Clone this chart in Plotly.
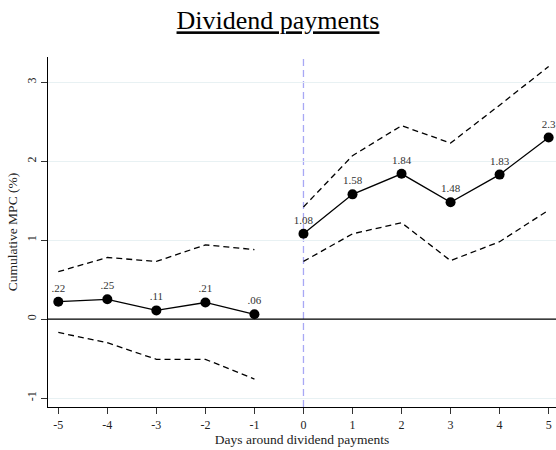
import plotly.graph_objects as go

# Days relative to the dividend payment date
days_pre = [-5, -4, -3, -2, -1]
days_post = [0, 1, 2, 3, 4, 5]

# Cumulative MPC point estimates (%)
mpc_pre = [0.22, 0.25, 0.11, 0.21, 0.06]
mpc_post = [1.08, 1.58, 1.84, 1.48, 1.83, 2.3]
labels_pre = [".22", ".25", ".11", ".21", ".06"]
labels_post = ["1.08", "1.58", "1.84", "1.48", "1.83", "2.3"]

# Confidence interval bounds
upper_pre = [0.60, 0.78, 0.73, 0.94, 0.88]
lower_pre = [-0.17, -0.30, -0.51, -0.51, -0.76]
upper_post = [1.42, 2.07, 2.45, 2.23, 2.71, 3.20]
lower_post = [0.73, 1.08, 1.22, 0.74, 0.98, 1.38]

x_ticks = [-5, -4, -3, -2, -1, 0, 1, 2, 3, 4, 5]
y_ticks = [-1, 0, 1, 2, 3]

FONT = "'Liberation Serif', 'Times New Roman', 'DejaVu Serif', serif"

fig = go.Figure()

for xs, ys in [(days_pre, upper_pre), (days_pre, lower_pre),
               (days_post, upper_post), (days_post, lower_post)]:
    fig.add_trace(go.Scatter(
        x=xs, y=ys, mode="lines",
        line=dict(color="black", width=1.3, dash="6px,4px"),
        hoverinfo="skip", showlegend=False,
    ))

for xs, ys, lab in [(days_pre, mpc_pre, labels_pre), (days_post, mpc_post, labels_post)]:
    fig.add_trace(go.Scatter(
        x=xs, y=ys, mode="lines+markers+text",
        line=dict(color="black", width=1.3),
        marker=dict(color="black", size=10),
        text=lab, textposition="top center",
        textfont=dict(family=FONT, size=11, color="#333333"),
        showlegend=False,
    ))

# Zero reference line and event-day marker
fig.add_hline(y=0, line=dict(color="black", width=1.3), layer="above")
fig.add_vline(x=0, line=dict(color="#a8a8f5", width=1.3, dash="7px,4px"), layer="below")

fig.update_layout(
    width=556, height=450,
    margin=dict(l=48, r=0, t=57, b=43),
    paper_bgcolor="white", plot_bgcolor="white",
    font=dict(family=FONT, size=12, color="#222222"),
    title=dict(
        text="<u>Dividend payments</u>",
        x=0.5, xanchor="center", y=0.955, yanchor="middle",
        font=dict(family=FONT, size=26, color="black"),
    ),
    xaxis=dict(
        range=[-5.21, 5.15], tickmode="array", tickvals=x_ticks,
        ticktext=[str(v) for v in x_ticks],
        showgrid=False, zeroline=False,
        showline=True, linecolor="black", linewidth=1.3,
        ticks="outside", ticklen=6, tickcolor="#333333",
        tickfont=dict(family=FONT, size=12),
        title=dict(text="Days around dividend payments", standoff=2,
                   font=dict(family=FONT, size=13.5)),
    ),
    yaxis=dict(
        range=[-1.114, 3.32], tickmode="array", tickvals=y_ticks,
        ticktext=[str(v) for v in y_ticks], tickangle=-90,
        showgrid=True, gridcolor="#e8f1f3", gridwidth=1, zeroline=False,
        showline=True, linecolor="black", linewidth=1.3,
        ticks="outside", ticklen=6, tickcolor="#333333",
        tickfont=dict(family=FONT, size=12),
        title=dict(text="Cumulative MPC (%)", standoff=4,
                   font=dict(family=FONT, size=13.5)),
    ),
)

fig.write_html("out.html")
